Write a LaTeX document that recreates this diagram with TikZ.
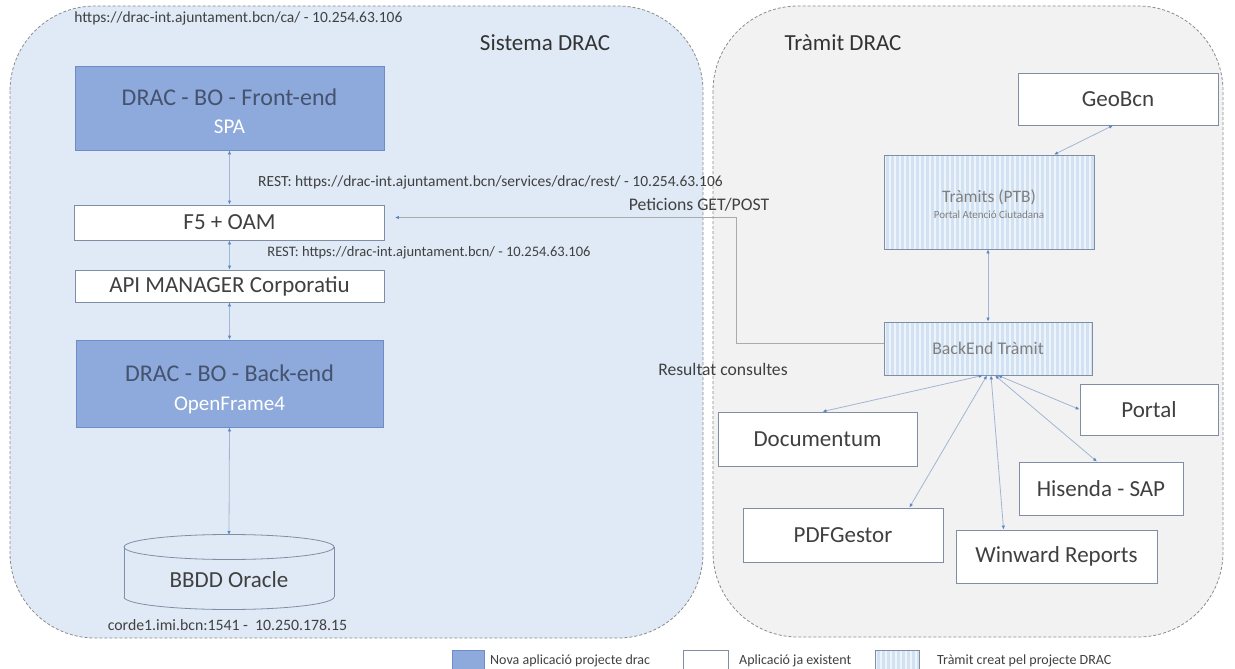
\documentclass[tikz,border=0pt]{standalone}
\usepackage{fontspec}
\setmainfont{Carlito}
\usetikzlibrary{arrows.meta,calc}
\definecolor{leftbg}{HTML}{DFEAF6}
\definecolor{rightbg}{HTML}{F2F2F2}
\definecolor{contborder}{HTML}{8C8C8C}
\definecolor{newblue}{HTML}{8EA9DB}
\definecolor{blueborder}{HTML}{6E8CC7}
\definecolor{bluetext}{HTML}{44536E}
\definecolor{boxborder}{HTML}{7F8EA5}
\definecolor{textdark}{HTML}{404040}
\definecolor{textgrey}{HTML}{7F7F7F}
\definecolor{stripebg}{HTML}{D3E2F3}
\definecolor{stripew}{HTML}{EEF4FB}
\definecolor{linec}{HTML}{A2B6D3}
\definecolor{tipc}{HTML}{5B87C5}
\definecolor{petc}{HTML}{ABABAB}
\newcommand\fsz[2]{\fontsize{#1}{#2}\selectfont}
\begin{document}
\begin{tikzpicture}[x=1pt,y=-1pt,
  bluebox/.style={draw=blueborder, fill=newblue, inner sep=0pt, line width=0.8pt},
  whitebox/.style={draw=boxborder, fill=white, text=textdark, inner sep=0pt, line width=0.8pt, font=\fsz{23}{27}},
  stripebox/.style={draw=boxborder, fill=stripebg, text=textgrey, align=center, inner sep=0pt, line width=0.8pt,
    path picture={\foreach \i in {0,5,...,300} {\fill[stripew] ([xshift=\i*1pt]path picture bounding box.north west) rectangle ([xshift=\i*1pt+2pt]path picture bounding box.south west);}}},
  conn/.style={draw=linec, line width=0.8pt, arrows={Latex[length=4pt,width=3.5pt,color=tipc]-Latex[length=4pt,width=3.5pt,color=tipc]}},
  petconn/.style={draw=petc, line width=0.8pt, arrows={-Latex[length=4pt,width=3.5pt,color=tipc]}},
  cont/.style={draw=contborder, dash pattern=on 3pt off 2pt, line width=0.8pt, rounded corners=85pt},
  lbl/.style={text=textdark, inner sep=0pt},
  btitle/.style={text=bluetext, inner sep=0pt, font=\fsz{24}{28}},
  bsub/.style={text=white, inner sep=0pt, font=\fsz{21}{25}}]
\useasboundingbox (0,0) rectangle (1235,669);
\fill[white] (0,0) rectangle (1235,669);
% containers
\draw[cont, fill=leftbg] (10,6) rectangle (703,638);
\draw[cont, fill=rightbg] (713,6) rectangle (1223,637);
\node[lbl, font=\fsz{23}{27}, text=black!80] (t1) at (545,43) {Sistema DRAC};
\node[lbl, font=\fsz{23}{27}, text=black!80] (t2) at (843,43) {Tràmit DRAC};
% left column
\node[lbl, font=\fsz{15.5}{18}] (url) at (238.5,18) {https://drac-int.ajuntament.bcn/ca/ - 10.254.63.106};
\node[bluebox, minimum width=309pt, minimum height=84pt] (fe) at (229.5,108) {};
\node[btitle] (fet) at (229.5,97) {DRAC - BO - Front-end};
\node[bsub] (fes) at (229.5,127) {SPA};
\node[whitebox, minimum width=310pt, minimum height=35pt] (f5) at (229.5,222.5) {F5 + OAM};
\node[whitebox, minimum width=309pt, minimum height=32pt] (api) at (229.5,286) {API MANAGER Corporatiu};
\node[bluebox, minimum width=307pt, minimum height=87pt] (be) at (229.5,383.5) {};
\node[btitle] (bet1) at (229.5,373) {DRAC - BO - Back-end};
\node[bsub] (bes) at (229.5,405) {OpenFrame4};
\node[lbl, font=\fsz{15.5}{18}] (rest1) at (490.5,182) {REST: https://drac-int.ajuntament.bcn/services/drac/rest/ - 10.254.63.106};
\node[lbl, font=\fsz{14.5}{17}] (rest2) at (429,253) {REST: https://drac-int.ajuntament.bcn/ - 10.254.63.106};
% database cylinder
\fill[leftbg] (124,547) rectangle (334,597);
\fill[leftbg] (229,597) ellipse [x radius=105, y radius=12.5];
\begin{scope}
\clip (110,597) rectangle (350,620);
\draw[boxborder, line width=0.8pt] (229,597) ellipse [x radius=105, y radius=12.5];
\end{scope}
\draw[boxborder, line width=0.8pt] (124,547) -- (124,597) (334,547) -- (334,597);
\draw[boxborder, line width=0.8pt] (229,547) ellipse [x radius=105, y radius=12.5];
\coordinate (dbtop) at (229,535);
\node[lbl, font=\fsz{23}{27}] (db) at (229,580) {BBDD Oracle};
\node[lbl, font=\fsz{15.8}{18}] (dbl) at (227.5,625) {corde1.imi.bcn:1541 -\ \ 10.250.178.15};
% left connectors
\draw[conn] (fe.south) -- (f5.north);
\draw[conn] (f5.south) -- (api.north);
\draw[conn] (api.south) -- (be.north);
\draw[conn] (be.south) -- (dbtop);
% right column
\node[whitebox, minimum width=200pt, minimum height=52pt] (geo) at (1118,99) {GeoBcn};
\node[stripebox, minimum width=210pt, minimum height=94pt] (ptb) at (989,202) {};
\node[lbl, text=textgrey, font=\fsz{17.5}{21}] (ptbt) at (989,197) {Tràmits (PTB)};
\node[lbl, text=textgrey, font=\fsz{11}{13}] (ptbs) at (989,215) {Portal Atenció Ciutadana};
\node[stripebox, minimum width=208pt, minimum height=53pt, font=\fsz{17.8}{21}] (bet) at (988,348.5) {BackEnd Tràmit};
\node[whitebox, minimum width=199pt, minimum height=54pt] (doc) at (817.5,439) {Documentum};
\node[whitebox, minimum width=200pt, minimum height=54pt] (pdf) at (843,535) {PDFGestor};
\node[whitebox, minimum width=164pt, minimum height=53pt] (his) at (1101,488.5) {Hisenda - SAP};
\node[whitebox, minimum width=201pt, minimum height=53pt] (win) at (1056.5,556.5) {Winward Reports};
\node[whitebox, minimum width=138pt, minimum height=51pt] (por) at (1149,409.5) {Portal};
% right connectors
\draw[conn] ($(geo.south)+(-5,0)$) -- ($(ptb.north)+(65,0)$);
\draw[conn] (ptb.south -| bet.south) -- (bet.north);
\draw[conn] ($(bet.south)+(-5,0)$) -- ($(doc.north)+(5,0)$);
\draw[conn] ($(bet.south)+(-1,0)$) -- ($(pdf.north east)+(-34,0)$);
\draw[conn] ($(bet.south)+(3,0)$) -- ($(win.north west)+(48,0)$);
\draw[conn] ($(bet.south)+(7,0)$) -- ($(his.north)+(-4,0)$);
\draw[conn] ($(bet.south)+(10,0)$) -- (por.west);
% GET/POST connector
\coordinate (bend) at (736,217.5);
\draw[petconn] ($(bet.west)+(0,-5)$) -| (bend) -- ($(f5.east)+(10,-5)$);
\node[lbl, font=\fsz{17.7}{21}] (pet) at (699,205) {Peticions GET/POST};
\node[lbl, font=\fsz{17.6}{21}] (res) at (723,369) {Resultat consultes};
% legend
\node[draw=blueborder, fill=newblue, minimum width=32pt, minimum height=24pt, inner sep=0pt, anchor=north west] (lg1) at (452,650) {};
\node[lbl, anchor=west, font=\fsz{14}{16}] (lt1) at (490,661) {Nova aplicació projecte drac};
\node[draw=boxborder, fill=white, minimum width=45pt, minimum height=24pt, inner sep=0pt, anchor=north west] (lg2) at (683,650) {};
\node[lbl, anchor=west, font=\fsz{14}{16}] (lt2) at (739,661) {Aplicació ja existent};
\node[stripebox, minimum width=44pt, minimum height=24pt, anchor=north west] (lg3) at (875,650) {};
\node[lbl, anchor=west, font=\fsz{14}{16}] (lt3) at (937,661) {Tràmit creat pel projecte DRAC};
\end{tikzpicture}
\end{document}
